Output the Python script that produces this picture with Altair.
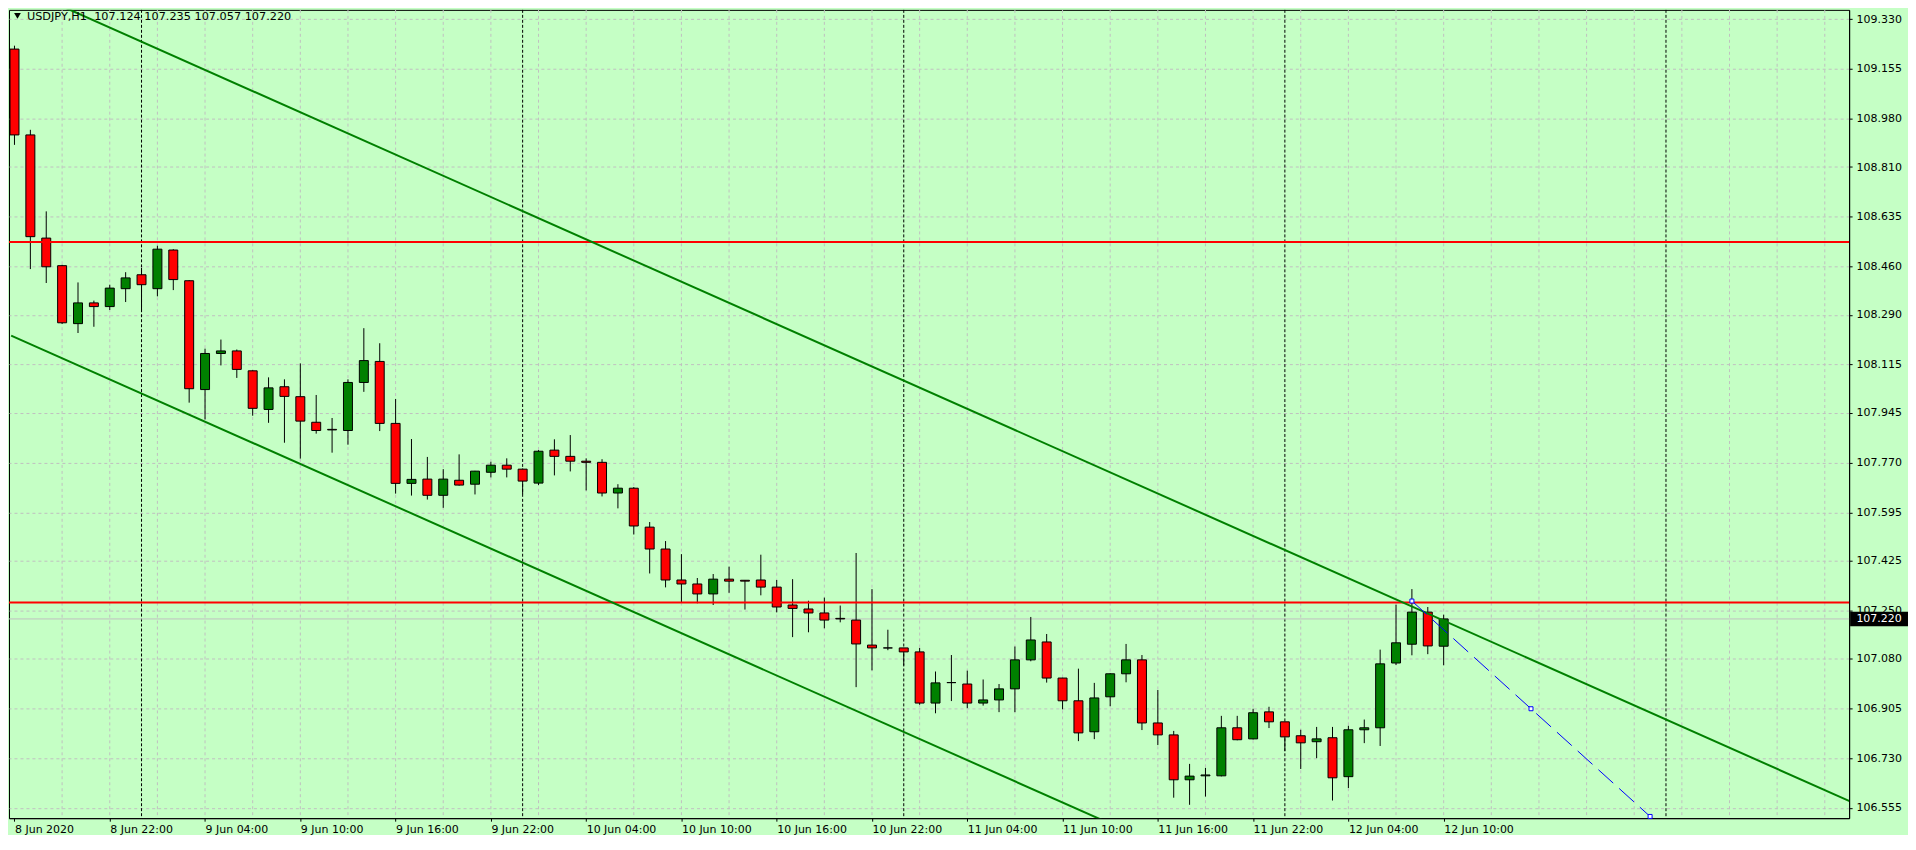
import altair as alt
import pandas as pd

# ---------------- data ----------------
HEADER = "USDJPY,H1\u00a0\u00a0107.124 107.235 107.057 107.220"
TIME_LABELS = ["8 Jun 2020", "8 Jun 22:00", "9 Jun 04:00", "9 Jun 10:00", "9 Jun 16:00",
               "9 Jun 22:00", "10 Jun 04:00", "10 Jun 10:00", "10 Jun 16:00", "10 Jun 22:00",
               "11 Jun 04:00", "11 Jun 10:00", "11 Jun 16:00", "11 Jun 22:00", "12 Jun 04:00",
               "12 Jun 10:00"]
LABEL_STEP = 6          # hourly bars between time labels
GRID_STEP = 3           # hourly bars between vertical grid lines
DAY_STARTS = [8, 32, 56, 80, 104]   # bar index of 00:00 each day (period separators)
PRICE_TICKS = [109.330, 109.155, 108.980, 108.810, 108.635, 108.460, 108.290, 108.115,
               107.945, 107.770, 107.595, 107.425, 107.250, 107.080, 106.905, 106.730, 106.555]

OPEN = [109.225, 108.923, 108.560, 108.463, 108.259, 108.332, 108.319, 108.382, 108.431, 108.382,
        108.518, 108.410, 108.027, 108.154, 108.163, 108.093, 107.957, 108.037, 108.002, 107.912,
        107.887, 107.883, 108.052, 108.126, 107.908, 107.697, 107.712, 107.655, 107.708, 107.694,
        107.736, 107.761, 107.747, 107.698, 107.814, 107.792, 107.775, 107.771, 107.663, 107.680,
        107.543, 107.466, 107.357, 107.343, 107.308, 107.360, 107.356, 107.357, 107.332, 107.269,
        107.255, 107.241, 107.222, 107.216, 107.128, 107.118, 107.118, 107.104, 106.924, 106.996,
        106.991, 106.924, 106.935, 106.974, 107.076, 107.139, 107.012, 106.932, 106.823, 106.946,
        107.027, 107.076, 106.854, 106.812, 106.654, 106.668, 106.668, 106.837, 106.798, 106.893,
        106.858, 106.809, 106.788, 106.802, 106.665, 106.830, 106.837, 107.065, 107.131, 107.244,
        107.124]
HIGH = [109.237, 108.941, 108.654, 108.466, 108.404, 108.340, 108.396, 108.440, 108.455, 108.533,
        108.521, 108.412, 108.171, 108.203, 108.168, 108.095, 108.070, 108.063, 108.119, 108.008,
        107.927, 108.063, 108.243, 108.190, 107.994, 107.853, 107.790, 107.747, 107.799, 107.741,
        107.773, 107.785, 107.749, 107.814, 107.852, 107.867, 107.785, 107.782, 107.694, 107.684,
        107.561, 107.494, 107.448, 107.364, 107.378, 107.404, 107.357, 107.446, 107.357, 107.360,
        107.284, 107.295, 107.267, 107.452, 107.325, 107.182, 107.118, 107.118, 107.035, 107.093,
        107.038, 107.007, 106.991, 107.123, 107.227, 107.167, 107.013, 107.045, 106.995, 107.029,
        107.132, 107.093, 106.970, 106.826, 106.710, 106.696, 106.879, 106.879, 106.904, 106.911,
        106.858, 106.830, 106.840, 106.840, 106.844, 106.866, 107.112, 107.270, 107.325, 107.262,
        107.235]
LOW = [108.888, 108.451, 108.402, 108.258, 108.226, 108.248, 108.307, 108.335, 108.300, 108.355,
       108.377, 107.981, 107.922, 108.112, 108.068, 107.935, 107.910, 107.840, 107.784, 107.872,
       107.805, 107.833, 108.019, 107.881, 107.661, 107.654, 107.640, 107.611, 107.689, 107.658,
       107.718, 107.718, 107.659, 107.691, 107.725, 107.739, 107.672, 107.651, 107.609, 107.517,
       107.380, 107.331, 107.279, 107.275, 107.269, 107.312, 107.253, 107.303, 107.243, 107.156,
       107.173, 107.187, 107.208, 106.980, 107.039, 107.110, 107.056, 106.918, 106.888, 106.931,
       106.906, 106.915, 106.892, 106.892, 107.071, 106.996, 106.902, 106.790, 106.797, 106.913,
       106.997, 106.829, 106.776, 106.591, 106.566, 106.595, 106.666, 106.793, 106.796, 106.836,
       106.755, 106.692, 106.730, 106.581, 106.625, 106.783, 106.773, 107.058, 107.092, 107.096,
       107.057]
CLOSE = [108.923, 108.565, 108.459, 108.262, 108.332, 108.319, 108.384, 108.420, 108.396, 108.521,
         108.414, 108.030, 108.154, 108.163, 108.098, 107.961, 108.033, 108.003, 107.916, 107.883,
         107.885, 108.052, 108.129, 107.908, 107.697, 107.711, 107.655, 107.712, 107.691, 107.740,
         107.761, 107.747, 107.705, 107.810, 107.792, 107.775, 107.771, 107.663, 107.680, 107.547,
         107.466, 107.357, 107.343, 107.308, 107.360, 107.353, 107.353, 107.332, 107.262, 107.257,
         107.241, 107.216, 107.220, 107.132, 107.118, 107.118, 107.104, 106.924, 106.995, 106.996,
         106.924, 106.935, 106.974, 107.076, 107.146, 107.012, 106.932, 106.819, 106.942, 107.027,
         107.076, 106.854, 106.812, 106.654, 106.667, 106.671, 106.837, 106.795, 106.890, 106.858,
         106.805, 106.784, 106.798, 106.661, 106.830, 106.837, 107.062, 107.136, 107.244, 107.125,
         107.220]

LAST_PRICE = 107.220
RED_LEVELS = [108.546, 107.278]
UPPER_CHANNEL_B = [2.81, 115.56]
UPPER_CHANNEL_P = [109.380, 106.579]
LOWER_CHANNEL_B = [-0.21, 70.0]
LOWER_CHANNEL_P = [108.217, 106.475]
PROJ_B = [88.0, 95.5, 103.0]
PROJ_P = [107.283, 106.904, 106.525]

# ---------------- styling ----------------
BG = "#C5FFC5"
GRID = "#C0C0C0"
FONT = "DejaVu Sans"
W, H = 1844, 810

xscale = alt.Scale(domain=[-0.03125, 115.21875], nice=False, zero=False)
yscale = alt.Scale(domain=[106.519, 109.363], nice=False, zero=False)

label_expr = "[" + ",".join("'%s'" % t for t in TIME_LABELS) + "][round(datum.value / %d)]" % LABEL_STEP
xaxis = alt.Axis(orient="bottom", values=list(range(0, LABEL_STEP * len(TIME_LABELS), LABEL_STEP)),
                 labelExpr=label_expr, labelAlign="left", labelFlush=False, labelOverlap=False,
                 grid=False, tickSize=3, labelPadding=2, title=None, labelBound=False)
yaxis = alt.Axis(orient="right", values=PRICE_TICKS, format=".3f", grid=True, gridColor=GRID,
                 gridDash=[3, 3], gridWidth=1, tickSize=3, labelPadding=4, title=None,
                 labelOverlap=False, labelFlush=False)


def X(field="b"):
    return alt.X(field + ":Q", scale=xscale, axis=xaxis)


def Y(field="p"):
    return alt.Y(field + ":Q", scale=yscale, axis=yaxis)


n = len(OPEN)
bars = pd.DataFrame({"b": list(range(n)), "o": OPEN, "h": HIGH, "l": LOW, "c": CLOSE})
wicks = pd.DataFrame({"b": bars["b"], "p": bars["l"], "p2": bars["h"]})
bodies = pd.DataFrame({"b": bars["b"], "p": bars["o"], "p2": bars["c"],
                       "col": ["#008000" if c >= o else "#FF0000" for o, c in zip(OPEN, CLOSE)]})

vgrid = pd.DataFrame({"b": list(range(GRID_STEP, 116, GRID_STEP))})
seps = pd.DataFrame({"b": DAY_STARTS})

layers = []
layers.append(alt.Chart(vgrid).mark_rule(color=GRID, strokeDash=[3, 3], strokeWidth=1).encode(x=X()))
layers.append(alt.Chart(seps).mark_rule(color="black", strokeDash=[3, 2], strokeWidth=1).encode(x=X()))
layers.append(alt.Chart(pd.DataFrame({"p": [LAST_PRICE]})).mark_rule(color=GRID, strokeWidth=1).encode(y=Y()))

layers.append(alt.Chart(wicks).mark_rule(color="black", strokeWidth=1, clip=True).encode(
    x=X(), y=Y(), y2=alt.Y2("p2:Q")))
layers.append(alt.Chart(bodies).mark_bar(size=9, stroke="black", strokeWidth=1, clip=True).encode(
    x=X(), y=Y(), y2=alt.Y2("p2:Q"), color=alt.Color("col:N", scale=None)))

layers.append(alt.Chart(pd.DataFrame({"p": RED_LEVELS})).mark_rule(color="#FF0000", strokeWidth=2).encode(y=Y()))

for cb, cp in [(UPPER_CHANNEL_B, UPPER_CHANNEL_P), (LOWER_CHANNEL_B, LOWER_CHANNEL_P)]:
    layers.append(alt.Chart(pd.DataFrame({"b": cb, "p": cp})).mark_line(
        color="#008000", strokeWidth=2, clip=True).encode(x=X(), y=Y()))

proj = pd.DataFrame({"b": PROJ_B, "p": PROJ_P})
layers.append(alt.Chart(proj).mark_line(color="#0000FF", strokeWidth=1, strokeDash=[20, 8]).encode(
    x=X(), y=Y()))
layers.append(alt.Chart(proj).mark_point(shape="square", size=16, filled=False, fill="white",
                                         stroke="#0000FF", strokeWidth=1, opacity=1).encode(x=X(), y=Y()))

hdr = pd.DataFrame({"t": [HEADER]})
layers.append(alt.Chart(hdr).mark_point(shape="triangle-down", filled=True, color="black", size=45,
                                        opacity=1).encode(x=alt.value(8.5), y=alt.value(6)))
layers.append(alt.Chart(hdr).mark_text(align="left", baseline="middle", font=FONT, fontSize=11.3,
                                       color="black").encode(x=alt.value(18), y=alt.value(7), text="t:N"))

last = pd.DataFrame({"p": [LAST_PRICE], "t": ["%.3f" % LAST_PRICE]})
layers.append(alt.Chart(last).mark_point(shape="M-1,-0.25L1,-0.25L1,0.25L-1,0.25Z", size=3364,
                                         filled=True, color="black", opacity=1, strokeWidth=0,
                                         clip=False).encode(x=alt.value(W + 30), y=Y()))
layers.append(alt.Chart(last).mark_text(align="center", baseline="middle", font=FONT, fontSize=11,
                                        color="white", clip=False).encode(
    x=alt.value(W + 30), y=Y(), text="t:N"))

chart = alt.layer(*layers).properties(
    width=W, height=H, padding=0, background=BG
).configure_view(
    stroke="black", strokeWidth=1, fill=BG
).configure_axis(
    labelFont=FONT, labelFontSize=11, labelColor="black", domainColor="black",
    tickColor="black", domainWidth=1, tickWidth=1
)

chart.save("out.html", embed_options={"renderer": "svg", "actions": False})
